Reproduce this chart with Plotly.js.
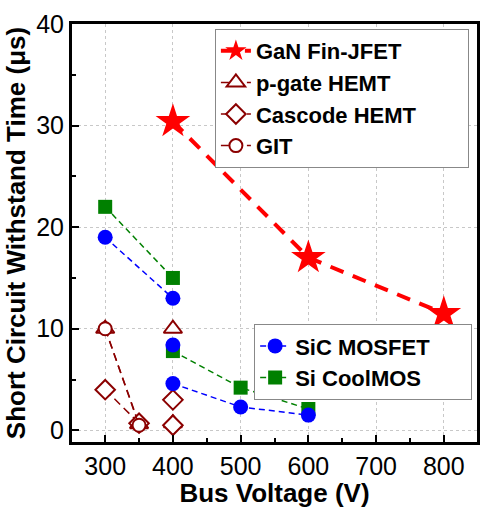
<!DOCTYPE html>
<html>
<head>
<meta charset="utf-8">
<script src="https://cdn.plot.ly/plotly-3.0.1.min.js"></script>
<style>
  body { margin: 0; background: #fff; }
  #chart { width: 491px; height: 508px; }
</style>
</head>
<body>
<div id="chart"></div>
<script>
// Bus voltages (V) and withstand times (us); null breaks a line between separate devices
var ganX = [400, 600, 800];
var ganY = [30.4, 17, 11.5];

var pgateX = [300, 350, null, 400, null, 400];
var pgateY = [10, 0.6, null, 10, null, 0.7];

var cascodeX = [300, 350, null, 400, null, 400];
var cascodeY = [4, 0.7, null, 3, null, 0.5];

var gitX = [300, 350];
var gitY = [10, 0.5];

var sicX = [300, 400, null, 400, null, 400, 500, 600];
var sicY = [19, 13, null, 8.4, null, 4.6, 2.3, 1.5];

var coolX = [300, 400, null, 400, 500, 600];
var coolY = [22, 15, null, 7.8, 4.2, 2.1];

var DARKRED = '#8B0000';
var FONT = 'Liberation Sans, Arial, sans-serif';

// Builds a dark red hollow-marker trace
function hemtTrace(name, x, y, symbol, size) {
    return {
        x: x, y: y, name: name, type: 'scatter', mode: 'lines+markers',
        connectgaps: false,
        line: {color: DARKRED, width: 1.5, dash: '8px,5px'},
        marker: {symbol: symbol, size: size, color: '#fff', line: {color: DARKRED, width: 2}},
        legend: 'legend'
    };
}

var data = [
    {
        x: ganX, y: ganY, name: 'GaN Fin-JFET', type: 'scatter', mode: 'lines+markers',
        line: {color: '#FF0000', width: 4, dash: '14px,10px'},
        marker: {symbol: 'star', size: 26, color: '#FF0000'},
        legend: 'legend'
    },
    hemtTrace('p-gate HEMT', pgateX, pgateY, 'triangle-up', 16),
    hemtTrace('Cascode HEMT', cascodeX, cascodeY, 'diamond', 15),
    hemtTrace('GIT', gitX, gitY, 'circle', 13),
    {
        x: coolX, y: coolY, name: 'Si CoolMOS', type: 'scatter', mode: 'lines+markers',
        connectgaps: false,
        line: {color: '#008000', width: 1.5, dash: '6px,4px'},
        marker: {symbol: 'square', size: 14, color: '#008000'},
        legend: 'legend2'
    },
    {
        x: sicX, y: sicY, name: 'SiC MOSFET', type: 'scatter', mode: 'lines+markers',
        connectgaps: false,
        line: {color: '#0000FF', width: 1.5, dash: '6px,4px'},
        marker: {symbol: 'circle', size: 15, color: '#0000FF'},
        legend: 'legend2'
    }
];

var axisCommon = {
    showline: true, linecolor: '#000', linewidth: 3, mirror: true,
    ticks: 'inside', ticklen: 7, tickwidth: 2, tickcolor: '#000',
    showgrid: true, gridcolor: '#c8c8c8', gridwidth: 1, griddash: 'dot',
    zeroline: false, automargin: false,
    tickfont: {family: FONT, size: 25, color: '#000'},
    minor: {ticks: 'inside', ticklen: 4, tickwidth: 2, tickcolor: '#000', showgrid: false}
};

var legendFont = {family: FONT, size: 22, color: '#000', weight: 'bold'};

var layout = {
    width: 491, height: 508,
    margin: {l: 72, r: 14, t: 24, b: 66, autoexpand: false},
    paper_bgcolor: '#fff', plot_bgcolor: '#fff',
    font: {family: FONT, color: '#000'},
    xaxis: Object.assign({}, axisCommon, {
        range: [251, 849], tickvals: [300, 400, 500, 600, 700, 800],
        minor: Object.assign({}, axisCommon.minor, {dtick: 50, tick0: 250}),
        title: {text: '<b>Bus Voltage (V)</b>', font: {family: FONT, size: 26}, standoff: 4}
    }),
    yaxis: Object.assign({}, axisCommon, {
        range: [-1.15, 40], tickvals: [0, 10, 20, 30, 40],
        minor: Object.assign({}, axisCommon.minor, {dtick: 5, tick0: 0}),
        title: {text: '<b>Short Circuit Withstand Time (\u03bcs)</b>', font: {family: FONT, size: 26}, standoff: 4}
    }),
    legend: {
        x: 0.98, y: 0.988, xanchor: 'right', yanchor: 'top',
        orientation: 'h', entrywidth: 207, entrywidthmode: 'pixels',
        bgcolor: '#fff', bordercolor: '#888', borderwidth: 1,
        font: legendFont, itemsizing: 'trace'
    },
    legend2: {
        x: 0.988, y: 0.282, xanchor: 'right', yanchor: 'top',
        orientation: 'h', entrywidth: 171, entrywidthmode: 'pixels',
        bgcolor: '#fff', bordercolor: '#888', borderwidth: 1,
        font: legendFont, traceorder: 'reversed', itemsizing: 'trace'
    },
    showlegend: true
};

Plotly.newPlot('chart', data, layout, {displayModeBar: false, staticPlot: true});
</script>
</body>
</html>
